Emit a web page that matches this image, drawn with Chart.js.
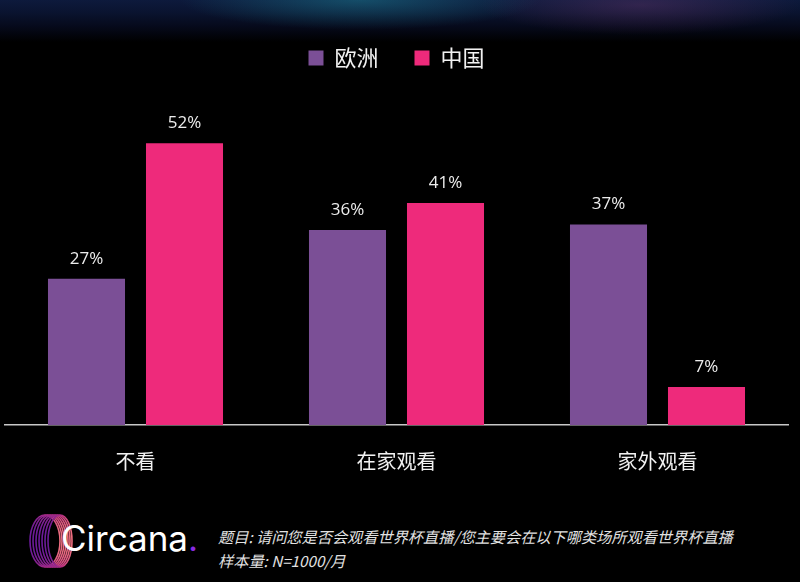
<!DOCTYPE html>
<html>
<head>
<meta charset="utf-8">
<script src="https://cdn.jsdelivr.net/npm/chart.js@4.4.1/dist/chart.umd.min.js"></script>
<style>
    html, body {
        margin: 0;
        padding: 0;
        width: 800px;
        height: 582px;
        overflow: hidden;
        background: #000;
    }
    .page {
        position: relative;
        width: 800px;
        height: 582px;
        background:
            radial-gradient(ellipse 180px 30px at 360px 0px, rgba(30, 140, 160, 0.45), transparent),
            radial-gradient(ellipse 160px 30px at 640px 5px, rgba(120, 60, 120, 0.35), transparent),
            linear-gradient(to bottom, #0d1a3c 0px, #0a1430 12px, #060a1c 26px, #000 42px);
    }
    .chart-box {
        position: absolute;
        left: 0;
        top: 0;
        width: 800px;
        height: 500px;
    }
    .logo {
        position: absolute;
        left: 28px;
        top: 512px;
        width: 170px;
        height: 58px;
    }
    .logo .word {
        position: absolute;
        left: 33px;
        top: 5px;
        font-family: "Inter", "Lato", sans-serif;
        font-size: 35px;
        color: #fff;
    }
    .logo .dot {
        color: #8a2be2;
    }
    .note {
        position: absolute;
        left: 218px;
        top: 524px;
        font-family: "Noto Sans CJK SC", sans-serif;
        font-style: italic;
        font-size: 15.2px;
        line-height: 24px;
        color: #e2e2e2;
    }
</style>
</head>
<body>
<div class="page">
    <div class="chart-box"><canvas id="chart"></canvas></div>
    <div class="logo">
        <svg width="60" height="58" viewBox="0 0 60 58">
            <defs>
                <linearGradient id="ring" x1="0" y1="0" x2="1" y2="0">
                    <stop offset="0" stop-color="#6a1a9a"/>
                    <stop offset="0.6" stop-color="#b8307f"/>
                    <stop offset="1" stop-color="#f07080"/>
                </linearGradient>
            </defs>
            <g fill="none" stroke="url(#ring)" stroke-width="1.6">
                <ellipse cx="17" cy="29" rx="15" ry="26"/>
                <ellipse cx="19.5" cy="29" rx="14.5" ry="26"/>
                <ellipse cx="22" cy="29" rx="14" ry="26"/>
                <ellipse cx="24.5" cy="29" rx="13.5" ry="26"/>
                <ellipse cx="27" cy="29" rx="13" ry="26"/>
                <ellipse cx="29.5" cy="29" rx="12.5" ry="26"/>
                <ellipse cx="32" cy="29" rx="12" ry="26"/>
            </g>
        </svg>
        <div class="word">Circana<span class="dot">.</span></div>
    </div>
    <div class="note">题目: 请问您是否会观看世界杯直播/您主要会在以下哪类场所观看世界杯直播<br>样本量: N=1000/月</div>
</div>
<script>
(function () {
    "use strict";

    const categories = ["不看", "在家观看", "家外观看"];
    const seriesNames = ["欧洲", "中国"];
    const europeValues = [27, 36, 37];
    const chinaValues = [52, 41, 7];

    const PURPLE = "#7b4f96";
    const PINK = "#ee2a7b";
    const CJK = "'Noto Sans CJK SC', sans-serif";

    // value labels above each bar
    const barLabels = {
        id: "barLabels",
        afterDatasetsDraw(chart) {
            const ctx = chart.ctx;
            ctx.save();
            ctx.font = "17px 'Open Sans', 'Noto Sans', sans-serif";
            ctx.fillStyle = "#ececec";
            ctx.textAlign = "center";
            ctx.textBaseline = "middle";
            chart.data.datasets.forEach((ds, i) => {
                chart.getDatasetMeta(i).data.forEach((bar, j) => {
                    ctx.fillText(ds.data[j] + "%", bar.x, bar.y - 20);
                });
            });
            ctx.restore();
        },
    };

    // extra room under the legend
    const legendGap = {
        id: "legendGap",
        beforeInit(chart) {
            const fit = chart.legend.fit;
            chart.legend.fit = function () {
                fit.call(this);
                this.height += 21;
            };
        },
    };

    new Chart(document.getElementById("chart"), {
        type: "bar",
        data: {
            labels: categories,
            datasets: [
                {
                    label: seriesNames[0],
                    data: europeValues,
                    backgroundColor: PURPLE,
                    borderWidth: 0,
                },
                {
                    label: seriesNames[1],
                    data: chinaValues,
                    backgroundColor: PINK,
                    borderWidth: 0,
                },
            ],
        },
        options: {
            responsive: true,
            maintainAspectRatio: false,
            animation: false,
            categoryPercentage: 0.751,
            barPercentage: 0.786,
            layout: {
                padding: { left: 5, right: 12, top: 11, bottom: 11 },
            },
            plugins: {
                legend: {
                    display: true,
                    position: "top",
                    labels: {
                        color: "#f2f2f2",
                        font: { family: CJK, size: 22 },
                        boxWidth: 15,
                        boxHeight: 15,
                        padding: 36,
                    },
                },
                tooltip: { enabled: false },
            },
            scales: {
                x: {
                    grid: { display: false },
                    border: { display: true, color: "#c8c8c8", width: 1.5 },
                    ticks: {
                        color: "#f2f2f2",
                        font: { family: CJK, size: 20 },
                        padding: 16,
                    },
                },
                y: {
                    display: false,
                    min: 0,
                    max: 60,
                },
            },
        },
        plugins: [barLabels, legendGap],
    });
})();
</script>
</body>
</html>
